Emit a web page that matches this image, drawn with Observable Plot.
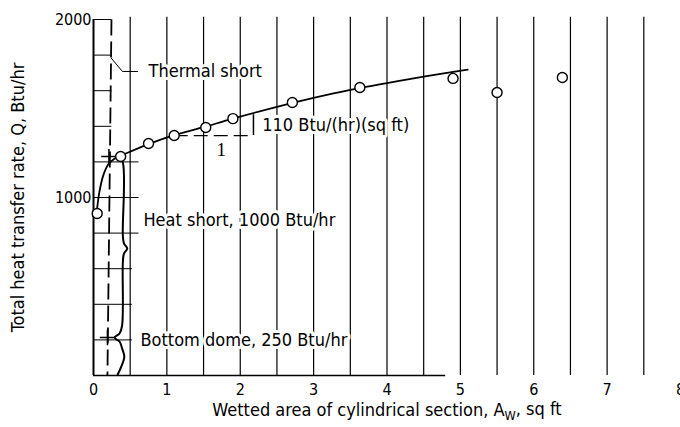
<!DOCTYPE html>
<html><head><meta charset="utf-8">
<script src="https://cdn.jsdelivr.net/npm/d3@7"></script>
<script src="https://cdn.jsdelivr.net/npm/@observablehq/plot@0.6"></script>
<style>
body{margin:0;background:#fff;}
</style></head><body><div id="chart"></div>
<script>
// measured data points (circles)
const wettedArea = [0.05, 0.37, 0.75, 1.10, 1.53, 1.90, 2.71, 3.63, 4.90, 5.50, 6.39];
const heatRate   = [910, 1230, 1303, 1348, 1393, 1443, 1534, 1618, 1669, 1590, 1674];
// faired curve
const curveArea = [0.05, 0.08, 0.13, 0.20, 0.30, 0.40, 0.75, 1.10, 1.50, 1.90, 2.70, 3.00, 3.50, 4.00, 4.50, 5.10];
const curveQ    = [940, 1030, 1120, 1185, 1222, 1240, 1300, 1350, 1395, 1443, 1530, 1560, 1605, 1643, 1679, 1718];
// brace drawn to the right of the thermal-short line
const braceArea = [0.34, 0.40, 0.40, 0.415, 0.46, 0.415, 0.40, 0.39, 0.355, 0.286, 0.355, 0.39, 0.42, 0.38, 0.33];
const braceQ    = [1236, 1197, 787, 742, 713, 685, 635, 281, 236, 213, 191, 152, 107, 51, 6];
// plus marks on the thermal-short line
const crossArea = [0.21, 0.19];
const crossQ    = [1230, 213];
// axis ticks / grid
const xTicks = [0, 1, 2, 3, 4, 5, 6, 7, 8];
const yTicks = [1000, 2000];
const gridX = [0.5, 1, 1.5, 2, 2.5, 3, 3.5, 4, 4.5, 5, 5.5, 6, 6.5, 7, 7.5];
const shortTicksY = [1400, 1600, 1800, 2000];
const midTicksY = [800, 1000, 1200];
const lowTicksY = [200, 400, 600];
// slope triangle
const slopeX = [1.10, 2.18];
const slopeY = [1348, 1465];
// labels
const xLabelParts = ["Wetted area of cylindrical section, A", "W", ", sq ft"];
const yLabel = "Total heat transfer rate, Q, Btu/hr";
const annotations = [
  {x: 0.75, y: 1708, text: "Thermal short"},
  {x: 0.68, y: 871, text: "Heat short, 1000 Btu/hr"},
  {x: 0.64, y: 197, text: "Bottom dome, 250 Btu/hr"},
  {x: 2.30, y: 1405, text: "110 Btu/(hr)(sq ft)"}
];
const leaderX = [0.245, 0.395, 0.60];
const leaderY = [1781, 1708, 1708];

const pts = wettedArea.map((a, i) => ({a, q: heatRate[i]}));
const curve = curveArea.map((a, i) => ({a, q: curveQ[i]}));
const brace = braceArea.map((a, i) => ({a, q: braceQ[i]}));
const crosses = crossArea.map((a, i) => ({a, q: crossQ[i]}));
const leader = leaderX.map((a, i) => ({a, q: leaderY[i]}));
const font = "'DejaVu Sans Condensed','Liberation Sans Narrow',sans-serif";

const plot = Plot.plot({
  width: 680, height: 427,
  marginLeft: 93, marginRight: 0, marginTop: 19, marginBottom: 52,
  style: {fontFamily: font, fontSize: "18px", background: "white", color: "black", overflow: "visible"},
  x: {domain: [0, 8]},
  y: {domain: [0, 2000]},
  marks: [
    Plot.ruleX(gridX, {y1: 0, y2: 2012, stroke: "black", strokeWidth: 1.2}),
    Plot.ruleX([0], {y1: 0, y2: 2000, stroke: "black", strokeWidth: 2}),
    Plot.ruleY([0], {x1: 0, x2: 4.8, stroke: "black", strokeWidth: 1.5}),
    Plot.ruleY(shortTicksY, {x1: 0, x2: 0.25, stroke: "black", strokeWidth: 1}),
    Plot.ruleY(midTicksY, {x1: 0, x2: 0.62, stroke: "black", strokeWidth: 1}),
    Plot.ruleY(lowTicksY, {x1: 0, x2: 0.53, stroke: "black", strokeWidth: 1}),
    Plot.link([0], {x1: () => 0.245, y1: () => 2000, x2: () => 0.19, y2: () => 0, stroke: "black", strokeWidth: 1.8, strokeDasharray: "16,6"}),
    Plot.line(leader, {x: "a", y: "q", stroke: "black", strokeWidth: 1}),
    Plot.line(brace, {x: "a", y: "q", curve: "catmull-rom", stroke: "black", strokeWidth: 2}),
    Plot.line(curve, {x: "a", y: "q", curve: "catmull-rom", stroke: "black", strokeWidth: 1.8}),
    Plot.ruleY([slopeY[0]], {x1: slopeX[0], x2: slopeX[1], stroke: "black", strokeWidth: 1.3, strokeDasharray: "14,6"}),
    Plot.ruleX([slopeX[1]], {y1: slopeY[0], y2: slopeY[1], stroke: "black", strokeWidth: 1.5}),
    Plot.text(["1"], {x: () => (slopeX[0] + slopeX[1]) / 2 + 0.1, y: () => slopeY[0] - 80, fontFamily: "'Liberation Serif',serif", fontSize: 19, fill: "black"}),
    Plot.dot(crosses, {x: "a", y: "q", symbol: "plus", r: 5, stroke: "black", strokeWidth: 1.5}),
    Plot.text(annotations, {x: "x", y: "y", text: "text", textAnchor: "start", fill: "black", stroke: "white", strokeWidth: 6}),
    Plot.dot(pts, {x: "a", y: "q", r: 5, fill: "white", stroke: "black", strokeWidth: 1.4}),
    Plot.axisX(xTicks, {tickSize: 0, tickPadding: 8, label: null, fontSize: 16}),
    Plot.axisY(yTicks, {tickSize: 0, tickPadding: 2, label: null, fontSize: 16, tickFormat: d => String(d)}),
    Plot.text([yLabel], {frameAnchor: "left", textAnchor: "middle", lineAnchor: "middle", dx: -75, rotate: -90, fill: "black"}),
    Plot.text([xLabelParts.join("")], {frameAnchor: "bottom", lineAnchor: "middle", dy: 35, fill: "black"})
  ]
});
// subscript W in the x-axis label
const full = xLabelParts.join("");
plot.querySelectorAll("text").forEach(t => {
  if (t.textContent === full) {
    t.textContent = "";
    const ns = "http://www.w3.org/2000/svg";
    const s1 = document.createElementNS(ns, "tspan"); s1.textContent = xLabelParts[0];
    const s2 = document.createElementNS(ns, "tspan"); s2.textContent = xLabelParts[1];
    s2.setAttribute("dy", "0.3em"); s2.setAttribute("font-size", "0.7em");
    const s3 = document.createElementNS(ns, "tspan"); s3.textContent = xLabelParts[2];
    s3.setAttribute("dy", "-0.3em");
    t.append(s1, s2, s3);
  }
});
document.getElementById("chart").append(plot);
</script></body></html>
